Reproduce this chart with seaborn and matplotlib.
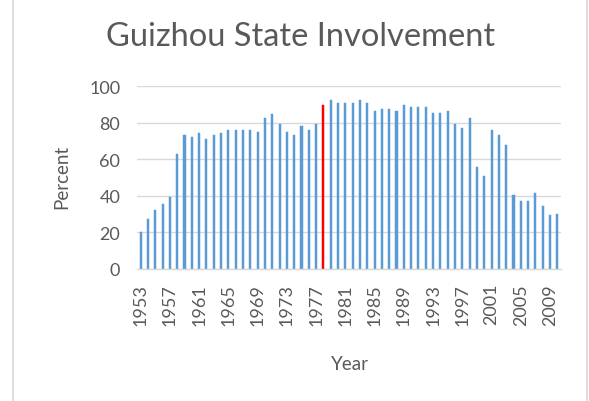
import numpy as np
import matplotlib
matplotlib.use("Agg")
import matplotlib.pyplot as plt
from matplotlib.lines import Line2D
import seaborn as sns

# Guizhou state involvement (%) by year
years = list(range(1953, 2011))
percent = [
    20.0, 27.3, 32.2, 35.5, 39.6, 63.1, 73.3, 72.4, 74.5, 71.3,
    73.3, 74.4, 76.2, 76.2, 76.2, 76.2, 75.1, 82.4, 84.5, 79.5,
    75.1, 73.3, 78.4, 76.2, 79.5, 89.6, 92.5, 90.7, 90.7, 90.7,
    92.5, 90.7, 86.5, 87.5, 87.5, 86.4, 89.6, 88.5, 88.5, 88.5,
    85.5, 85.5, 86.4, 79.5, 77.3, 82.4, 55.8, 50.7, 76.2, 73.3,
    68.0, 40.4, 37.3, 37.3, 41.5, 34.2, 29.3, 30.2,
]
highlight_year = 1978
tick_years = list(range(1953, 2011, 4))

blue = "#5B9BD5"
red = "#FF0000"
text_gray = "#595959"
grid_gray = "#D9D9D9"

sns.set_theme(style="white")
plt.rcParams['font.family'] = ['Lato', 'DejaVu Sans']

fig = plt.figure(figsize=(5.89, 4.02), dpi=100)
ax = fig.add_axes([137 / 589, 1 - 270 / 402, 424 / 589, 183 / 402])

palette = {str(y): (red if y == highlight_year else blue) for y in years}
labels = [str(y) for y in years]
sns.barplot(x=labels, y=percent, hue=labels, palette=palette, legend=False,
            width=0.28, saturation=1, ax=ax)
# give the thin bars a solid look
for p in ax.patches:
    p.set_edgecolor(p.get_facecolor())
    p.set_linewidth(0.35)

ax.set_xlim(-0.5, len(years) - 0.5)
ax.set_ylim(0, 100)
ax.set_yticks(range(0, 101, 20))
ax.yaxis.grid(True, color=grid_gray, linewidth=1)
ax.set_axisbelow(True)

tick_pos = [years.index(y) for y in tick_years]
ax.set_xticks(tick_pos)
ax.set_xticklabels([str(y) for y in tick_years], rotation=90)
ax.tick_params(axis='x', length=0, pad=10, labelsize=13, labelcolor=text_gray)
ax.tick_params(axis='y', length=0, pad=12, labelsize=13, labelcolor=text_gray)

for side in ['top', 'right', 'left']:
    ax.spines[side].set_visible(False)
ax.spines['bottom'].set_color(grid_gray)
ax.spines['bottom'].set_linewidth(1)

ax.set_xlabel("")
ax.set_ylabel("")
fig.text(62 / 589, 1 - 177 / 402, "Percent", rotation=90, ha='center', va='center',
         fontsize=13.5, color=text_gray)
fig.text(350 / 589, 1 - 365 / 402, "Year", ha='center', va='center',
         fontsize=13.5, color=text_gray)
fig.text(301 / 589, 1 - 37 / 402, "Guizhou State Involvement", ha='center', va='center',
         fontsize=23.5, color=text_gray)

# chart frame edges
fig.add_artist(Line2D([13 / 589, 13 / 589], [0, 1], color=grid_gray, linewidth=1.2))
fig.add_artist(Line2D([587 / 589, 587 / 589], [0, 1], color=grid_gray, linewidth=1.2))

fig.savefig("out.png", dpi=100, facecolor="white")
